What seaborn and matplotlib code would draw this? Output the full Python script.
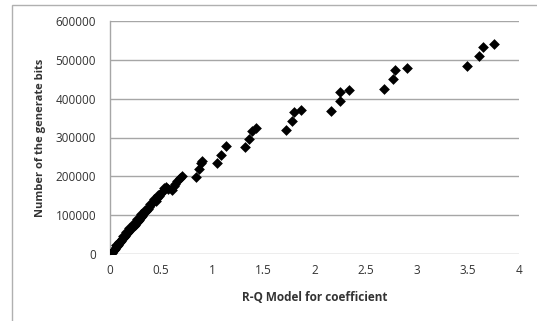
import numpy as np
import pandas as pd
import matplotlib
matplotlib.use('Agg')
import matplotlib.pyplot as plt
from matplotlib.patches import Rectangle
import seaborn as sns

# coefficient values (x)
coefficient = [
    0.02, 0.03, 0.04, 0.05, 0.06, 0.07, 0.08, 0.09, 0.10, 0.11,
    0.12, 0.13, 0.14, 0.15, 0.16, 0.17, 0.18, 0.19, 0.20, 0.21,
    0.22, 0.23, 0.24, 0.25, 0.26, 0.27, 0.28, 0.29, 0.30, 0.31,
    0.32, 0.33, 0.35, 0.37, 0.38, 0.40, 0.42, 0.44, 0.45, 0.46,
    0.48, 0.50, 0.51, 0.53, 0.55, 0.61, 0.64, 0.66, 0.68, 0.70,
    0.84, 0.87, 0.89, 0.90, 1.05, 1.09, 1.13, 1.32, 1.36, 1.39,
    1.43, 1.72, 1.78, 1.80, 1.87, 2.16, 2.25, 2.25, 2.34, 2.68,
    2.77, 2.79, 2.90, 3.49, 3.61, 3.65, 3.76,
    0.06, 0.09, 0.13, 0.16, 0.19, 0.23, 0.26, 0.30, 0.34, 0.39,
    0.43, 0.47, 0.57, 0.63,
]

# number of generated bits (y)
bits = [
    3000, 7000, 11000, 14000, 18000, 21000, 24000, 28000, 31000, 34000,
    38000, 41000, 44000, 47000, 51000, 54000, 57000, 60000, 64000, 66000,
    70000, 73000, 75000, 79000, 82000, 86000, 88000, 92000, 95000, 99000,
    104000, 108000, 112000, 117000, 122000, 128000, 134000, 140000, 136000, 144000,
    150000, 156000, 160000, 170000, 172000, 164000, 180000, 188000, 196000, 201000,
    199000, 218000, 234000, 240000, 235000, 256000, 278000, 275000, 295000, 317000,
    324000, 319000, 343000, 366000, 372000, 368000, 394000, 418000, 422000, 424000,
    450000, 474000, 479000, 485000, 510000, 533000, 542000,
    22000, 32000, 47000, 56000, 67000, 80000, 90000, 104000, 113000, 130000,
    141000, 152000, 168000, 176000,
]

x_ticks = [0, 0.5, 1, 1.5, 2, 2.5, 3, 3.5, 4]
x_tick_labels = ['0', '0.5', '1', '1.5', '2', '2.5', '3', '3.5', '4']
y_ticks = [0, 100000, 200000, 300000, 400000, 500000, 600000]


def main():
    df = pd.DataFrame({'coef': coefficient, 'bits': bits})

    sns.set_style('white')
    plt.rcParams['font.family'] = ['Open Sans', 'DejaVu Sans']

    fig = plt.figure(figsize=(5.37, 3.21), dpi=100)
    ax = fig.add_axes([110 / 537, 1 - 254 / 321, 409 / 537, 233 / 321])

    sns.scatterplot(data=df, x='coef', y='bits', marker='D', s=30,
                    color='black', edgecolor='black', linewidth=0, ax=ax,
                    zorder=3)

    ax.set_xlim(0, 4)
    ax.set_ylim(0, 600000)
    ax.set_xticks(x_ticks)
    ax.set_xticklabels(x_tick_labels)
    ax.set_yticks(y_ticks)
    ax.set_yticklabels([str(v) for v in y_ticks])
    ax.tick_params(axis='both', length=0, labelsize=8.5, colors='#333333')
    ax.tick_params(axis='x', pad=7)
    ax.tick_params(axis='y', pad=10)

    ax.yaxis.grid(True, color='#a6a6a6', linewidth=1)
    ax.set_axisbelow(True)
    for side in ['top', 'right', 'bottom']:
        ax.spines[side].set_visible(False)
    ax.spines['left'].set_color('#a6a6a6')
    ax.spines['left'].set_linewidth(1)

    ax.set_xlabel('R-Q Model for coefficient', fontsize=8.5, fontweight='bold',
                  color='#333333', labelpad=10)
    ax.set_ylabel('Number of the generate bits', fontsize=8, fontweight='bold',
                  color='#333333', labelpad=7)

    # outer chart border, partly cut off by the image edge
    fig.add_artist(Rectangle((12 / 537, -0.1), 1.0, 1.1 - 5 / 321,
                             transform=fig.transFigure, fill=False,
                             edgecolor='#b0b0b0', linewidth=1, clip_on=False))

    fig.savefig('out.png', dpi=100)
    plt.close(fig)


if __name__ == '__main__':
    main()
